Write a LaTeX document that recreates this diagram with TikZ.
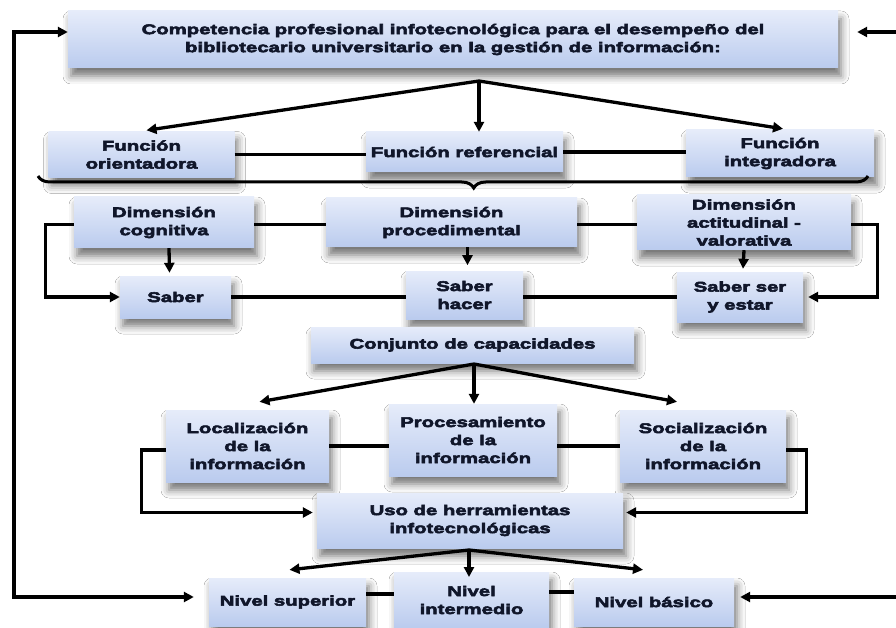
\documentclass[tikz,border=0pt]{standalone}
\usepackage{fontspec}
\newfontfamily\bx[FakeStretch=1.45,FakeBold=4]{Liberation Sans Bold}
\usetikzlibrary{arrows.meta,shadows.blur,decorations.pathreplacing,calc}
\definecolor{txt}{HTML}{10162A}
\definecolor{boxtop}{HTML}{E6ECFA}
\definecolor{boxbot}{HTML}{BACBEE}
\tikzset{
  bbox/.style={draw=none, top color=boxtop, bottom color=boxbot,
    blur shadow={shadow xshift=3pt, shadow yshift=-8pt, shadow blur radius=8pt, shadow opacity=55},
    text=txt, align=center, inner sep=2pt,
    font=\bx\fontsize{14}{18}\selectfont},
  conn/.style={line width=3.3pt, draw=black},
  arr/.style={conn, -{Triangle[length=10pt,width=10pt]}},
  darr/.style={conn, {Triangle[length=10pt,width=10pt]}-{Triangle[length=10pt,width=10pt]}},
}
\begin{document}
\begin{tikzpicture}[x=1pt,y=-1pt]
\path[use as bounding box, fill=white] (0,0) rectangle (896,628);

% boxes
\node[bbox, minimum width=770, minimum height=57] (top) at (453,39.5)
  {Competencia profesional infotecnológica para el desempeño del\\bibliotecario universitario en la gestión de información:};

\node[bbox, minimum width=186, minimum height=46] (fo) at (141.5,154.5) {Función\\orientadora};
\node[bbox, minimum width=197, minimum height=40] (fr) at (464.5,152) {Función referencial};
\node[bbox, minimum width=188, minimum height=47] (fi) at (780,153.5) {Función\\integradora};

\node[bbox, minimum width=180, minimum height=51] (dc) at (164,222.5) {Dimensión\\cognitiva};
\node[bbox, minimum width=251, minimum height=49] (dp) at (451.5,222.5) {Dimensión\\procedimental};
\node[bbox, minimum width=214, minimum height=55] (da) at (744,222.5) {Dimensión\\actitudinal -\\valorativa};

\node[bbox, minimum width=111, minimum height=42] (sab) at (175.5,297) {Saber};
\node[bbox, minimum width=117, minimum height=48] (sh) at (464.5,295) {Saber\\hacer};
\node[bbox, minimum width=126, minimum height=50] (sse) at (740,297) {Saber ser\\y estar};

\node[bbox, minimum width=323, minimum height=36] (conj) at (472.5,345) {Conjunto de capacidades};

\node[bbox, minimum width=163, minimum height=72] (loc) at (247.5,446) {Localización\\de la\\información};
\node[bbox, minimum width=168, minimum height=72] (proc) at (473,440) {Procesamiento\\de la\\información};
\node[bbox, minimum width=166, minimum height=72] (soc) at (703,446) {Socialización\\de la\\información};

\node[bbox, minimum width=306, minimum height=55] (uso) at (470,520.5) {Uso de herramientas\\infotecnológicas};

\node[bbox, minimum width=157, minimum height=48] (nsup) at (287.5,602) {Nivel superior};
\node[bbox, minimum width=155, minimum height=56] (nint) at (471.5,600) {Nivel\\intermedio};
\node[bbox, minimum width=160, minimum height=48] (nbas) at (654,602) {Nivel básico};

% coordinates
\coordinate (ap1) at (479,81);
\coordinate (ap3) at (474,364);
\coordinate (ap4) at (469,550);
\coordinate (lt) at (14,32);
\coordinate (lb) at (14,597);
\coordinate (rtop) at (898,32);
\coordinate (rbot) at (898,597);
\coordinate (brR) at (868,176);
\coordinate (brL) at (38,176);

% top arrows
\draw[arr] (ap1) -- ($(fo.north)+(5,-1)$);
\draw[arr] (ap1) -- (ap1 |- fr.north);
\draw[arr] (ap1) -- ($(fi.north)+(3,-1)$);

% function links
\draw[conn] (fo.east) -- (fo.east -| fr.west);
\draw[conn] (fr.east) -- (fr.east -| fi.west);

% brace
\draw[conn, line width=3pt, decorate, decoration={brace, amplitude=12pt, aspect=0.475}] (brR) -- (brL);

% dimension links
\draw[conn] ($(dc.east)+(0,2)$) -- ($(dc.east -| dp.west)+(0,2)$);
\draw[conn] ($(dp.east)+(0,2)$) -- ($(dp.east -| da.west)+(0,2)$);
\draw[arr] ($(dc.west)+(0,2)$) -- ++(-28,0) |- (sab.west);
\draw[arr] ($(da.east)+(0,2)$) -- ++(26,0) |- ($(sse.east)+(5,0)$);
\draw[arr] ($(dc.south)+(5,0)$) -- ($(sab.north)+(-6,-3)$);
\draw[arr] ($(dp.south)+(16,0)$) -- ($(dp.south)+(16,18)$);
\draw[arr] (da.south) -- ($(sse.north)+(3,-3)$);

% saber links
\draw[conn] (sab.east) -- (sab.east -| sh.west);
\draw[conn] (sh.east |- sab.east) -- (sab.east -| sse.west);

% conjunto arrows
\draw[arr] (ap3) -- ($(loc.north)+(12,-8)$);
\draw[arr] (ap3) -- (ap3 |- proc.north);
\draw[arr] (ap3) -- ($(soc.north)+(-26,-8)$);

% capacity links
\draw[conn] (loc.east) -- (loc.east -| proc.west);
\draw[conn] (proc.east |- loc.east) -- (loc.east -| soc.west);
\draw[arr] ($(loc.west)+(0,4)$) -- ++(-24,0) |- ($(uso.west)+(-4,-8)$);
\draw[arr] ($(soc.east)+(0,4)$) -- ++(20,0) |- ($(uso.east)+(3,-8)$);

% uso arrows
\draw[arr] (ap4) -- ($(nsup.north)+(2,-8)$);
\draw[arr] (ap4) -- ($(ap4)+(0,27)$);
\draw[arr] (ap4) -- ($(nbas.north)+(-11,-8)$);

% nivel links
\draw[conn] ($(nsup.east)+(0,-8)$) -- ($(nsup.east -| nint.west)+(0,-8)$);
\draw[conn] ($(nint.east)+(0,-8)$) -- ($(nint.east -| nbas.west)+(0,-8)$);

% feedback lines
\draw[darr] (top.west |- lt) -- (lt) -- (lb) -- ($(nsup.west |- lb)+(-15,0)$);
\draw[arr] (rtop) -- ($(top.east |- rtop)+(19,0)$);
\draw[arr] (rbot) -- ($(nbas.east |- rbot)+(6,0)$);
\end{tikzpicture}
\end{document}
